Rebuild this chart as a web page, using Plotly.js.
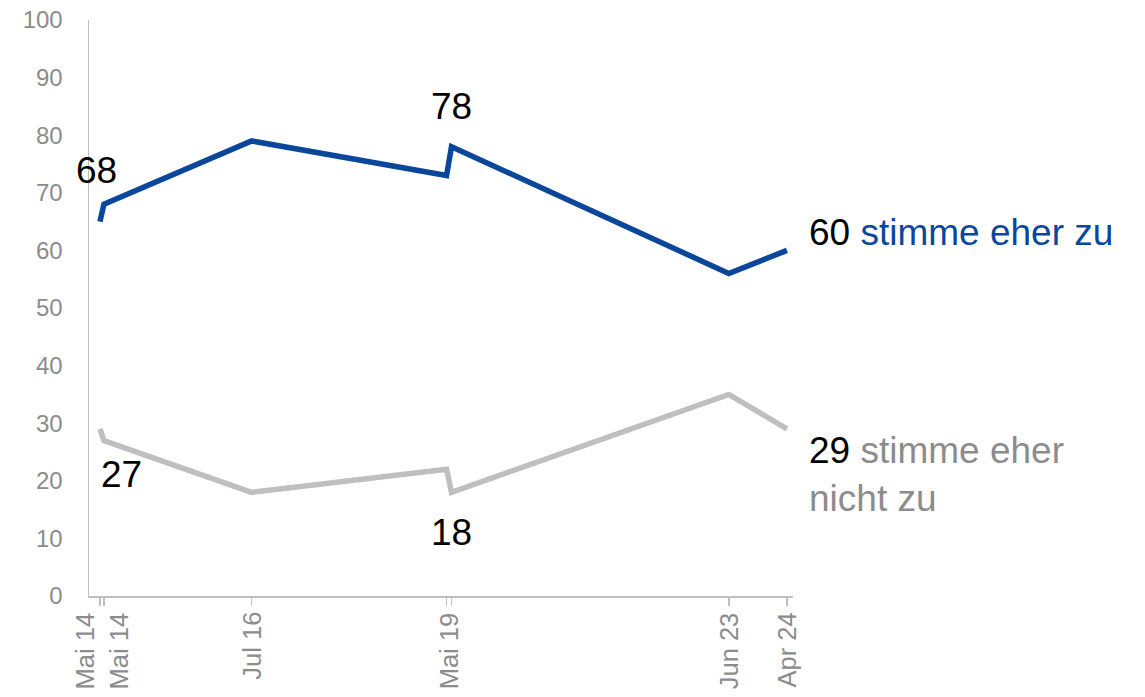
<!DOCTYPE html>
<html>
<head>
<meta charset="utf-8">
<script src="https://cdn.plot.ly/plotly-3.0.1.min.js"></script>
<style>html,body{margin:0;padding:0;background:#fff;}#chart{width:1145px;height:697px;}</style>
</head>
<body>
<div id="chart"></div>
<script>
// Survey dates (x) and values
const dates = ["2014-05-01", "2014-05-22", "2016-07-12", "2019-05-10", "2019-06-05", "2023-06-12", "2024-04-15"];
const agree = [65, 68, 79, 73, 78, 56, 60];          // stimme eher zu
const disagree = [29, 27, 18, 22, 18, 35, 29];       // stimme eher nicht zu
const tickDates = ["2014-05-01", "2014-05-22", "2016-07-12", "2019-05-10", "2019-06-05", "2023-06-12", "2024-04-15"];
const tickLabels = ["Mai 14", "Mai 14", "Jul 16", "Mai 19", "Jun 23", "Apr 24"];
const labelDates = ["2014-05-01", "2014-05-22", "2016-07-12", "2019-05-22", "2023-06-12", "2024-04-15"];
const labelShift = [-15, 15, 0, 0, 0, 0];
const agreeName = "stimme eher zu";
const disagreeName = "stimme eher<br>nicht zu";

const BLUE = "#0a479b";
const GRAY = "#bfbfbf";
const TXT = "#8c8c8c";
const FONT = "Liberation Sans, Arial, sans-serif";

const traces = [
  {x: dates, y: disagree, type: "scatter", mode: "lines", line: {color: GRAY, width: 5.5}, hoverinfo: "skip"},
  {x: dates, y: agree, type: "scatter", mode: "lines", line: {color: BLUE, width: 5.5}, hoverinfo: "skip"}
];

const annotations = [];
tickLabels.forEach((t, i) => {
  annotations.push({x: labelDates[i], y: 0, xref: "x", yref: "y", text: t, textangle: -90,
    showarrow: false, xanchor: "center", yanchor: "top", yshift: -14, xshift: labelShift[i],
    font: {family: FONT, size: 25.5, color: TXT}});
});
function lab(x, y, text, xs, ys) {
  annotations.push({x: x, y: y, xref: "x", yref: "y", text: text, showarrow: false,
    xanchor: "center", yanchor: "middle", xshift: xs, yshift: ys,
    font: {family: FONT, size: 37, color: "#000"}});
}
lab(dates[1], agree[1], String(agree[1]), -7, 34);
lab(dates[4], agree[4], String(agree[4]), 0, 40);
lab(dates[1], disagree[1], String(disagree[1]), 18, -34);
lab(dates[4], disagree[4], String(disagree[4]), 0, -40);
annotations.push({x: dates[6], y: agree[6], xref: "x", yref: "y",
  text: '<span style="color:#000">' + agree[6] + '</span> ' + agreeName,
  showarrow: false, xanchor: "left", yanchor: "middle", xshift: 20, yshift: 18, align: "left",
  font: {family: FONT, size: 37, color: BLUE}});
annotations.push({x: dates[6], y: disagree[6], xref: "x", yref: "y",
  text: '<span style="color:#000">' + disagree[6] + '</span> ' + disagreeName,
  showarrow: false, xanchor: "left", yanchor: "middle", xshift: 20, yshift: -46, align: "left",
  font: {family: FONT, size: 37, color: TXT}});

const layout = {
  width: 1145, height: 697,
  margin: {l: 89, r: 352, t: 20, b: 101},
  paper_bgcolor: "#fff", plot_bgcolor: "#fff",
  showlegend: false,
  xaxis: {type: "date", range: ["2014-03-04", "2024-05-17"], showgrid: false, zeroline: false,
    showline: true, linecolor: "#bfbfbf", linewidth: 1.5,
    tickmode: "array", tickvals: tickDates, ticktext: tickDates.map(() => ""),
    ticks: "outside", ticklen: 8, tickcolor: "#bfbfbf", tickwidth: 1.5},
  yaxis: {range: [0, 100], tickmode: "array", tickvals: [0,10,20,30,40,50,60,70,80,90,100],
    showgrid: false, zeroline: false, showline: true, linecolor: "#bfbfbf", linewidth: 1.5,
    ticks: "outside", ticklen: 20, tickcolor: "rgba(0,0,0,0)",
    tickfont: {family: FONT, size: 24, color: TXT}},
  annotations: annotations
};
Plotly.newPlot("chart", traces, layout, {displayModeBar: false, staticPlot: true});
</script>
</body>
</html>
